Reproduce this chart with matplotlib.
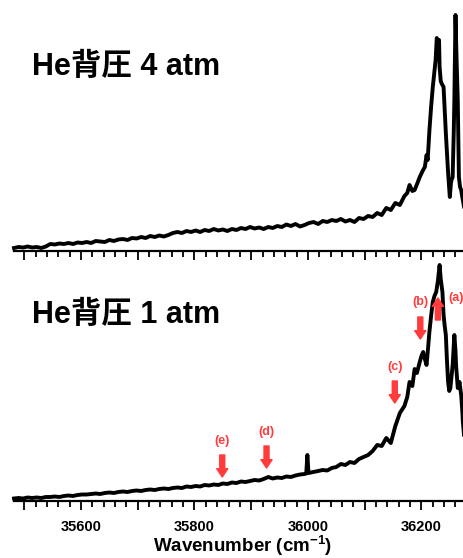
import matplotlib
matplotlib.use("Agg")
import matplotlib.pyplot as plt
from matplotlib.ticker import MultipleLocator

plt.rcParams['font.family'] = ['Liberation Sans', 'Noto Sans CJK JP']
plt.rcParams['font.weight'] = 'bold'
plt.rcParams['mathtext.fontset'] = 'custom'
plt.rcParams['mathtext.rm'] = 'Liberation Sans:bold'
plt.rcParams['mathtext.bf'] = 'Liberation Sans:bold'

# top spectrum: He 4 atm (wavenumber, intensity in arbitrary units)
top_wn = [35482, 35490, 35498, 35506, 35514, 35522, 35530, 35538,
          35546, 35554, 35562, 35570, 35578, 35586, 35594, 35602,
          35610, 35618, 35626, 35634, 35642, 35650, 35658, 35666,
          35674, 35682, 35690, 35698, 35706, 35714, 35722, 35730,
          35738, 35746, 35754, 35762, 35770, 35778, 35786, 35794,
          35802, 35810, 35818, 35826, 35834, 35842, 35850, 35858,
          35866, 35874, 35882, 35890, 35898, 35906, 35914, 35922,
          35930, 35938, 35946, 35954, 35962, 35970, 35978, 35986,
          35994, 36002, 36010, 36018, 36026, 36034, 36042, 36050,
          36058, 36066, 36074, 36082, 36090, 36098, 36106, 36114,
          36122, 36130, 36138, 36146, 36154, 36162, 36170,
          36175, 36179, 36184, 36188, 36193, 36197, 36202, 36206, 36209, 36211,
          36214, 36217, 36220, 36223, 36225, 36227, 36229, 36231, 36232, 36234,
          36236, 36239, 36241, 36243, 36245, 36247, 36250, 36252, 36253, 36255,
          36257, 36258, 36260, 36262, 36264, 36266, 36268, 36270, 36272, 36274, 36276]
top_int = [3, 4, 3.5, 4.5, 3.5, 4, 3, 4.5,
           7, 6.5, 7.5, 7, 8, 7, 8.5, 8,
           9, 8, 10, 9.5, 9, 11, 10, 11.5,
           12, 11, 13, 12.5, 14, 13, 15, 14,
           15.5, 14.5, 16, 18, 19, 18, 20, 19,
           20.5, 19, 21, 20, 22, 20.5, 21.5, 20,
           22, 21, 23, 22, 24, 22.5, 23.5, 22,
           24, 23, 25, 24, 26.5, 25, 27, 24.5,
           26, 28, 29, 27, 30, 29, 31, 30,
           32, 29.5, 31, 29, 33, 32, 35, 34,
           38, 36, 43, 41, 48, 46, 55,
           58, 66, 60, 61, 68, 74, 80, 84, 96, 91,
           120, 144, 164, 180, 191, 213, 210, 211, 184, 170,
           167, 164, 140, 118, 98, 78, 54, 68, 71, 74,
           120, 151, 236, 190, 151, 74, 64, 61, 54, 48, 41]

# bottom spectrum: He 1 atm
bot_wn = [35482, 35490, 35498, 35506, 35514, 35522, 35530, 35538,
          35546, 35554, 35562, 35570, 35578, 35586, 35594, 35602,
          35610, 35618, 35626, 35634, 35642, 35650, 35658, 35666,
          35674, 35682, 35690, 35698, 35706, 35714, 35722, 35730,
          35738, 35746, 35754, 35762, 35770, 35778, 35786, 35794,
          35802, 35810, 35818, 35826, 35834, 35842, 35850, 35858,
          35866, 35874, 35882, 35890, 35898, 35906, 35914, 35922,
          35930, 35938, 35946, 35954, 35962, 35970, 35978, 35986,
          35994, 35997, 35999, 36001, 36010, 36018, 36026, 36034, 36042, 36050,
          36058, 36066, 36074, 36082, 36090, 36098, 36106, 36114,
          36122, 36130, 36138, 36146, 36154, 36162, 36170,
          36175, 36179, 36184, 36188, 36192, 36197, 36200, 36203, 36206, 36209,
          36212, 36214, 36217, 36220, 36223, 36226, 36229, 36232, 36234, 36237,
          36239, 36241, 36243, 36245, 36247, 36249, 36251, 36253, 36255, 36257,
          36258, 36260, 36261, 36263, 36264, 36266, 36267, 36269, 36270, 36272,
          36273, 36276]
bot_int = [2.5, 3, 2.5, 3.5, 3, 3.5, 3, 4,
           4, 4.5, 4, 5, 5.5, 5, 6, 6.5,
           6.5, 7, 7.5, 7, 8, 8.5, 8, 9,
           9.5, 9, 10, 10.5, 10, 11, 11.5, 11,
           12, 12.5, 12, 13, 13.5, 13, 14.5, 14,
           15, 14.5, 16, 15.5, 16.5, 16, 17.5, 17,
           18.5, 18, 19.5, 19, 20, 21, 20.5, 22,
           24, 22.5, 23.5, 23, 24.5, 24, 25.5, 26.5,
           27, 27.5, 46, 28, 29, 30, 31, 30.5, 33, 34,
           37, 36, 39, 38, 42, 44, 46, 50,
           56, 55, 63, 58, 75, 88, 95,
           104, 119, 115, 132, 128, 139, 145, 149, 142, 136,
           155, 169, 185, 199, 205, 209, 220, 236, 222, 209,
           186, 175, 166, 140, 119, 110, 113, 125, 136, 155,
           166, 150, 136, 120, 113, 115, 119, 110, 106, 90,
           79, 60]

# arrows in the bottom panel: label, wavenumber, tail, head
arrow_labels = ["(a)", "(b)", "(c)", "(d)", "(e)"]
arrow_wn = [36229, 36198, 36153, 35927, 35849]
arrow_tail = [181, 184, 120, 55, 46]
arrow_head = [203, 162, 98, 33, 24]
label_wn = [36262, 36198, 36153, 35927, 35849]
label_y = [203, 199, 134, 69, 60]

red = "#ff3b3b"
W, H = 464, 558
fig = plt.figure(figsize=(4.64, 5.58), dpi=100)

ax1 = fig.add_axes([14 / W, (H - 251) / H, 450 / W, 251 / H])
ax2 = fig.add_axes([14 / W, (H - 501) / H, 450 / W, 239 / H])
ax2.set_facecolor("none")

ax1.plot(top_wn, top_int, color="black", lw=2.8, clip_on=False)
ax2.plot(bot_wn, bot_int, color="black", lw=2.8, clip_on=False)
ax1.set_ylim(0, 251)
ax2.set_ylim(0, 239)

for ax in [ax1, ax2]:
    ax.set_xlim(35482, 36275)
    for s in ["top", "left", "right"]:
        ax.spines[s].set_visible(False)
    ax.spines["bottom"].set_linewidth(1.6)
    ax.set_yticks([])
    ax.xaxis.set_major_locator(MultipleLocator(100))
    ax.xaxis.set_minor_locator(MultipleLocator(20))
    ax.tick_params(axis="x", which="major", direction="out", length=6.5, width=1.3)
    ax.tick_params(axis="x", which="minor", direction="out", length=4, width=1.3)
    ax.set_xticklabels([])

# tick labels only every 200 on the lower axis
for w in [35600, 35800, 36000, 36200]:
    ax2.text(w, -26, str(w), ha="center", va="center", fontsize=10.5,
             fontweight="bold")

ax2.text(35885, -45, "Wavenumber (cm$^{-1}$)", ha="center", va="center",
         fontsize=13.5, fontweight="bold")

ax1.text(0.04, 0.735, "He背圧 4 atm", transform=ax1.transAxes, fontsize=22,
         fontweight="bold", va="center", ha="left")
ax2.text(0.04, 0.78, "He背圧 1 atm", transform=ax2.transAxes, fontsize=22,
         fontweight="bold", va="center", ha="left")

for lab, w, t, h, lx, ly in zip(arrow_labels, arrow_wn, arrow_tail, arrow_head,
                                label_wn, label_y):
    ax2.annotate("", xy=(w, h), xytext=(w, t),
                 arrowprops=dict(arrowstyle="simple,head_length=0.6,head_width=0.8,tail_width=0.36",
                                 color=red, shrinkA=0, shrinkB=0, mutation_scale=10),
                 annotation_clip=False)
    ax2.text(lx, ly, lab, color=red, fontsize=9, fontweight="bold",
             ha="center", va="center", clip_on=False)

fig.savefig("out.png", dpi=100)
